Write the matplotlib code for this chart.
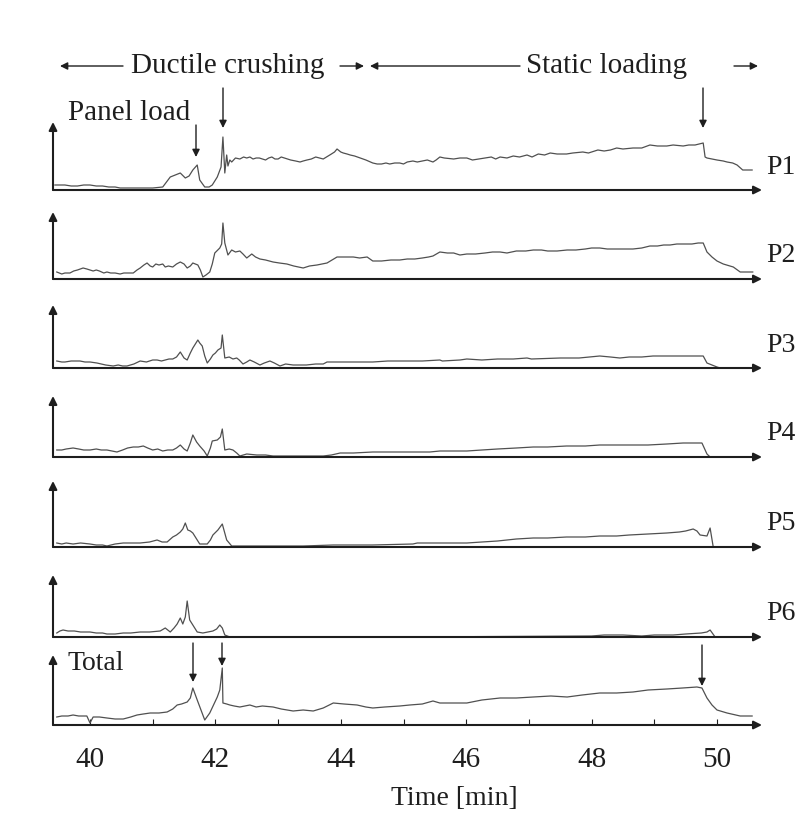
import matplotlib
matplotlib.use('Agg')
import matplotlib.pyplot as plt
from matplotlib.patches import FancyArrowPatch

plt.rcParams['font.family'] = ['Liberation Serif', 'DejaVu Serif']

# ---------------------------------------------------------------
# data: (time [min], load [arbitrary units])
# ---------------------------------------------------------------
p1 = [(39.44, 5), (39.6, 5), (39.7, 4), (39.8, 4), (39.9, 5), (40.0, 5), (40.1, 4), (40.2, 4),
      (40.3, 3), (40.4, 3), (40.48, 2), (40.7, 2), (41.0, 2), (41.16, 3), (41.22, 8),
      (41.28, 13), (41.36, 15), (41.44, 17), (41.52, 12), (41.58, 14), (41.64, 20),
      (41.71, 25), (41.75, 10), (41.83, 3), (41.90, 3), (41.95, 5), (42.03, 13),
      (42.09, 23), (42.12, 53), (42.15, 17), (42.18, 35), (42.20, 24), (42.23, 30),
      (42.26, 28), (42.32, 32), (42.39, 31), (42.45, 33), (42.5, 32), (42.55, 33),
      (42.6, 31), (42.65, 32), (42.7, 32), (42.75, 31), (42.8, 30), (42.85, 32),
      (42.9, 33), (42.95, 31), (43.0, 31), (43.05, 33), (43.1, 32), (43.15, 31),
      (43.2, 30), (43.28, 29), (43.35, 28), (43.4, 29), (43.46, 30), (43.53, 31),
      (43.6, 33), (43.66, 32), (43.72, 31), (43.8, 34), (43.85, 36), (43.9, 38),
      (43.94, 41), (44.0, 38), (44.04, 37), (44.1, 36), (44.15, 35), (44.22, 34),
      (44.31, 32), (44.4, 30), (44.51, 27), (44.58, 26), (44.65, 26), (44.72, 27),
      (44.78, 26), (44.86, 27), (44.94, 27), (45.0, 26), (45.06, 28), (45.15, 29),
      (45.22, 28), (45.3, 29), (45.38, 30), (45.47, 28), (45.52, 30), (45.58, 33),
      (45.65, 32), (45.8, 31), (45.9, 32), (46.01, 32), (46.1, 30), (46.2, 31),
      (46.3, 32), (46.4, 33), (46.47, 31), (46.54, 33), (46.65, 32), (46.75, 34),
      (46.85, 33), (46.97, 35), (47.05, 33), (47.15, 36), (47.25, 35), (47.34, 37),
      (47.45, 36), (47.6, 36), (47.7, 37), (47.86, 38), (47.95, 37), (48.1, 40),
      (48.2, 39), (48.3, 40), (48.4, 42), (48.5, 41), (48.66, 42), (48.8, 42),
      (48.93, 45), (49.05, 44), (49.2, 44), (49.3, 45), (49.46, 44), (49.55, 45),
      (49.65, 45), (49.78, 47), (49.81, 33), (49.84, 32), (50.0, 30), (50.1, 29),
      (50.16, 28), (50.25, 27), (50.32, 25), (50.41, 20), (50.56, 20)]

p2 = [(39.47, 7), (39.55, 5), (39.6, 6), (39.68, 6), (39.74, 8), (39.8, 9), (39.89, 11),
      (39.95, 10), (40.0, 9), (40.05, 8), (40.1, 9), (40.15, 8), (40.22, 6), (40.27, 7),
      (40.33, 6), (40.4, 6), (40.48, 5), (40.54, 6), (40.6, 6), (40.69, 6), (40.75, 9),
      (40.8, 11), (40.86, 14), (40.91, 16), (40.96, 13), (41.0, 12), (41.05, 15),
      (41.1, 14), (41.16, 15), (41.2, 12), (41.25, 13), (41.32, 12), (41.38, 15),
      (41.44, 17), (41.5, 15), (41.55, 11), (41.6, 13), (41.64, 16), (41.72, 14),
      (41.76, 9), (41.80, 2), (41.85, 4), (41.91, 7), (41.95, 15), (41.99, 26),
      (42.07, 31), (42.10, 35), (42.12, 56), (42.15, 36), (42.20, 24), (42.26, 29),
      (42.32, 27), (42.39, 28), (42.44, 25), (42.50, 21), (42.58, 25), (42.64, 22),
      (42.71, 20), (42.8, 19), (42.92, 17), (43.02, 16), (43.14, 15), (43.25, 13),
      (43.40, 11), (43.5, 13), (43.62, 14), (43.7, 15), (43.78, 16), (43.86, 19),
      (43.94, 22), (44.05, 22), (44.2, 22), (44.3, 21), (44.42, 22), (44.51, 18),
      (44.65, 18), (44.8, 19), (44.94, 19), (45.06, 20), (45.18, 20), (45.3, 21),
      (45.4, 22), (45.47, 23), (45.58, 27), (45.7, 26), (45.8, 26), (45.9, 24),
      (46.01, 25), (46.15, 25), (46.3, 26), (46.42, 27), (46.54, 27), (46.65, 26),
      (46.8, 28), (46.95, 28), (47.07, 29), (47.2, 29), (47.3, 28), (47.45, 28),
      (47.61, 29), (47.75, 29), (47.9, 30), (48.0, 31), (48.13, 31), (48.25, 30),
      (48.4, 30), (48.55, 30), (48.66, 30), (48.8, 31), (48.93, 33), (49.05, 33),
      (49.15, 34), (49.25, 34), (49.36, 35), (49.5, 35), (49.6, 35), (49.7, 36),
      (49.78, 36), (49.84, 27), (49.92, 22), (50.00, 18), (50.1, 15), (50.26, 12),
      (50.37, 7), (50.57, 7)]

p3 = [(39.47, 7), (39.55, 6), (39.6, 6), (39.7, 7), (39.84, 7), (39.92, 6), (40.0, 6),
      (40.11, 5), (40.18, 4), (40.25, 3), (40.37, 2), (40.45, 3), (40.52, 2), (40.59, 2),
      (40.7, 4), (40.80, 7), (40.9, 6), (41.0, 8), (41.07, 8), (41.14, 7), (41.2, 8),
      (41.26, 9), (41.32, 9), (41.38, 11), (41.44, 16), (41.5, 10), (41.55, 8),
      (41.6, 15), (41.64, 20), (41.68, 24), (41.72, 28), (41.75, 25), (41.79, 22),
      (41.83, 12), (41.87, 5), (41.92, 9), (41.96, 13), (42.0, 15), (42.04, 18),
      (42.09, 20), (42.11, 33), (42.15, 10), (42.22, 11), (42.28, 9), (42.34, 10),
      (42.38, 8), (42.44, 4), (42.5, 6), (42.55, 8), (42.62, 6), (42.71, 3),
      (42.78, 5), (42.87, 7), (42.94, 5), (43.03, 2), (43.12, 4), (43.24, 3),
      (43.45, 3), (43.6, 4), (43.72, 4), (43.78, 6), (44.1, 6), (44.51, 6), (44.75, 7),
      (45.0, 7), (45.3, 7), (45.58, 8), (45.62, 7), (45.9, 8), (46.01, 9), (46.25, 8),
      (46.5, 9), (46.75, 9), (46.97, 10), (47.04, 9), (47.5, 10), (47.8, 10),
      (48.13, 12), (48.3, 11), (48.45, 10), (48.6, 11), (48.8, 11), (48.98, 12),
      (49.2, 12), (49.5, 12), (49.78, 12), (49.84, 5), (49.92, 3), (50.00, 1),
      (50.05, 0)]

p4 = [(39.47, 7), (39.55, 7), (39.62, 8), (39.73, 9), (39.82, 8), (39.9, 7), (40.0, 7),
      (40.1, 8), (40.18, 7), (40.27, 7), (40.35, 6), (40.43, 5), (40.52, 7), (40.6, 9),
      (40.69, 10), (40.77, 10), (40.85, 11), (40.92, 9), (41.0, 7), (41.08, 8),
      (41.16, 6), (41.24, 7), (41.32, 7), (41.38, 9), (41.44, 12), (41.5, 8),
      (41.55, 6), (41.6, 14), (41.64, 22), (41.7, 15), (41.75, 11), (41.82, 6),
      (41.87, 1), (41.92, 9), (41.95, 16), (42.03, 17), (42.08, 20), (42.11, 28),
      (42.15, 7), (42.22, 8), (42.28, 7), (42.34, 4), (42.39, 1), (42.5, 3), (42.66, 2),
      (42.8, 2), (42.92, 1), (43.3, 1), (43.72, 1), (43.85, 2), (43.99, 4), (44.2, 4),
      (44.51, 5), (44.94, 5), (45.2, 5), (45.42, 5), (45.58, 6), (45.8, 6), (46.01, 6),
      (46.25, 7), (46.5, 8), (46.8, 9), (47.07, 10), (47.3, 10), (47.6, 11), (47.9, 11),
      (48.13, 12), (48.4, 12), (48.6, 12), (48.9, 12), (49.2, 13), (49.46, 14),
      (49.76, 14), (49.84, 3), (49.89, 0)]

p5 = [(39.47, 4), (39.55, 3), (39.62, 4), (39.73, 3), (39.85, 4), (40.0, 3), (40.1, 2),
      (40.2, 2), (40.27, 1), (40.4, 3), (40.53, 4), (40.65, 4), (40.8, 4), (40.95, 5),
      (41.07, 7), (41.15, 5), (41.23, 5), (41.32, 10), (41.38, 12), (41.44, 15),
      (41.48, 18), (41.52, 24), (41.56, 17), (41.6, 16), (41.64, 14), (41.7, 8),
      (41.75, 3), (41.87, 3), (41.92, 7), (41.96, 12), (42.04, 17), (42.11, 23),
      (42.18, 7), (42.26, 1), (42.6, 1), (42.92, 1), (43.4, 1), (43.88, 2), (44.5, 2),
      (45.15, 3), (45.22, 4), (45.58, 4), (46.01, 4), (46.25, 5), (46.5, 6), (46.8, 8),
      (47.07, 9), (47.3, 9), (47.6, 10), (47.9, 10), (48.13, 11), (48.4, 11), (48.6, 12),
      (48.9, 13), (49.2, 14), (49.4, 15), (49.5, 16), (49.62, 18), (49.68, 16),
      (49.73, 12), (49.84, 11), (49.89, 19), (49.94, 0)]

p6 = [(39.47, 4), (39.52, 6), (39.57, 7), (39.65, 6), (39.75, 6), (39.85, 5), (40.0, 5),
      (40.1, 4), (40.2, 4), (40.27, 3), (40.4, 3), (40.53, 4), (40.65, 4), (40.8, 5),
      (40.95, 5), (41.12, 6), (41.20, 9), (41.28, 5), (41.34, 9), (41.39, 13),
      (41.44, 19), (41.48, 13), (41.52, 20), (41.55, 36), (41.59, 17), (41.64, 12),
      (41.71, 5), (41.80, 4), (41.88, 5), (41.96, 6), (42.02, 8), (42.07, 12),
      (42.11, 9), (42.15, 2), (42.23, 0), (45.0, 0), (48.0, 1), (48.2, 2), (48.5, 2),
      (48.8, 1), (49.0, 2), (49.3, 2), (49.5, 3), (49.75, 4), (49.84, 5), (49.89, 7),
      (49.97, 0)]

total = [(39.47, 8), (39.55, 9), (39.65, 9), (39.73, 10), (39.82, 9), (39.95, 9), (40.0, 2),
         (40.05, 8), (40.15, 8), (40.27, 7), (40.4, 6), (40.53, 6), (40.65, 8), (40.75, 10),
         (40.85, 11), (40.96, 12), (41.1, 12), (41.23, 13), (41.32, 16), (41.39, 20),
         (41.46, 21), (41.55, 23), (41.6, 27), (41.64, 37), (41.71, 25), (41.77, 15),
         (41.83, 5), (41.91, 12), (41.97, 20), (42.03, 28), (42.07, 35), (42.11, 57),
         (42.12, 22), (42.18, 21), (42.23, 20), (42.3, 19), (42.39, 18), (42.47, 19),
         (42.55, 20), (42.65, 18), (42.75, 19), (42.92, 18), (43.05, 16), (43.24, 14),
         (43.4, 15), (43.56, 14), (43.72, 17), (43.88, 22), (44.05, 21), (44.26, 20),
         (44.4, 18), (44.51, 17), (44.7, 18), (44.94, 19), (45.1, 20), (45.3, 21),
         (45.47, 24), (45.58, 22), (45.8, 22), (46.01, 22), (46.25, 25), (46.54, 27),
         (46.8, 27), (47.07, 28), (47.35, 29), (47.61, 28), (47.85, 30), (48.13, 32),
         (48.4, 32), (48.66, 33), (48.9, 35), (49.2, 36), (49.45, 37), (49.68, 38),
         (49.76, 37), (49.84, 27), (49.92, 20), (50.0, 15), (50.16, 12), (50.37, 9),
         (50.56, 9)]

series = [p1, p2, p3, p4, p5, p6, total]
names = ['P1', 'P2', 'P3', 'P4', 'P5', 'P6', '']
xticks = list(range(40, 51))
xticklabels = [str(v) if v % 2 == 0 else '' for v in xticks]

# ---------------------------------------------------------------
# layout (pixels)
# ---------------------------------------------------------------
W, H = 795, 814
X0, X1 = 53, 762
T0 = 40 + (X0 - 90) / 62.7
T1 = 40 + (X1 - 90) / 62.7
baselines = [190, 279, 368, 457, 547, 637, 725]
tops = [122, 212, 305, 396, 481, 575, 655]

INK = '#1e1e1e'
LINE = '#505050'


def fx(px):
    return px / W


def fy(py):
    return 1 - py / H


fig = plt.figure(figsize=(W / 100, H / 100), dpi=100)


def arrow(x0, y0, x1, y1, lw=1.0, ms=11):
    a = FancyArrowPatch((fx(x0), fy(y0)), (fx(x1), fy(y1)),
                        transform=fig.transFigure, arrowstyle='-|>',
                        mutation_scale=ms, lw=lw, color=INK,
                        shrinkA=0, shrinkB=0)
    fig.add_artist(a)


for i, pts in enumerate(series):
    b, top = baselines[i], tops[i]
    ax = fig.add_axes([fx(X0), fy(b), fx(X1) - fx(X0), (b - top) / H])
    t = [p[0] for p in pts]
    v = [p[1] for p in pts]
    ax.plot(t, v, color=LINE, lw=0.9, clip_on=False)
    ax.set_xlim(T0, T1)
    ax.set_ylim(0, b - top)
    for s in ax.spines.values():
        s.set_visible(False)
    ax.set_yticks([])
    ax.patch.set_alpha(0)

    ax.annotate('', xy=(1, 0), xytext=(0, 0), xycoords='axes fraction',
                arrowprops=dict(arrowstyle='-|>', lw=1.5, color=INK,
                                mutation_scale=12, shrinkA=0, shrinkB=0))
    ax.annotate('', xy=(0, 1), xytext=(0, 0), xycoords='axes fraction',
                arrowprops=dict(arrowstyle='-|>', lw=1.5, color=INK,
                                mutation_scale=12, shrinkA=0, shrinkB=0))

    if names[i]:
        ax.set_xticks([])
        fig.text(fx(766), fy(b - 23), names[i], ha='left', va='center',
                 fontsize=20, color=INK)
    else:
        ax.set_xticks(xticks)
        ax.set_xticklabels(xticklabels)
        ax.tick_params(axis='x', direction='in', length=4, width=0.8,
                       color=INK, pad=16, labelsize=21, labelcolor=INK)

# top annotations
fig.text(fx(228), fy(66), 'Ductile crushing', ha='center', va='center',
         fontsize=21, color=INK)
fig.text(fx(607), fy(66), 'Static loading', ha='center', va='center',
         fontsize=21, color=INK)
arrow(123, 66, 60, 66)
arrow(340, 66, 364, 66)
arrow(520, 66, 370, 66)
arrow(734, 66, 758, 66)

fig.text(fx(68), fy(113), 'Panel load', ha='left', va='center',
         fontsize=21, color=INK)
fig.text(fx(68), fy(664), 'Total', ha='left', va='center',
         fontsize=20, color=INK)

# event arrows
arrow(196, 125, 196, 157)
arrow(223, 88, 223, 128)
arrow(703, 88, 703, 128)
arrow(193, 643, 193, 682)
arrow(222, 643, 222, 666)
arrow(702, 645, 702, 686)

fig.text(fx(454), fy(811), 'Time [min]', ha='center', va='bottom',
         fontsize=20, color=INK)

fig.savefig('out.png', dpi=100, facecolor='white')
